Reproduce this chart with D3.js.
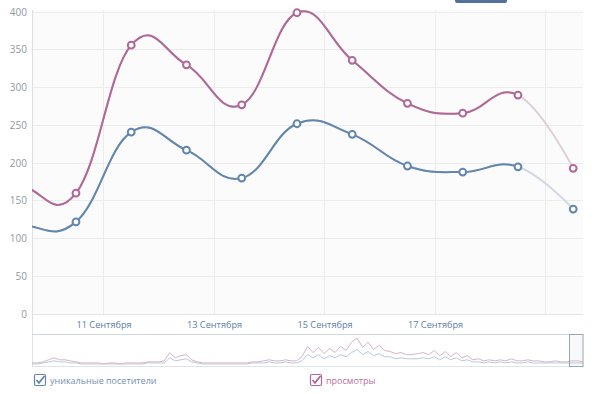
<!DOCTYPE html>
<meta charset="utf-8">
<style>
    body {
        margin: 0;
        background: #fff;
    }

    .chart text {
        font-family: "Open Sans", sans-serif;
    }

    .yaxis text {
        font-size: 10px;
        fill: #8f99a4;
    }

    .xaxis text {
        font-size: 9.2px;
        fill: #5d7ea6;
    }

    .grid line {
        stroke: #ececec;
        shape-rendering: crispEdges;
    }
</style>
<svg class="chart"></svg>
<script src="https://cdnjs.cloudflare.com/ajax/libs/d3/7.8.5/d3.min.js"></script>
<script>

    // days with points (noon), first two lie left of the visible area
    const days = ["2014-09-08", "2014-09-09", "2014-09-10", "2014-09-11", "2014-09-12", "2014-09-13",
        "2014-09-14", "2014-09-15", "2014-09-16", "2014-09-17", "2014-09-18", "2014-09-19"];
    const views = [180, 170, 160, 356, 330, 277, 399, 336, 279, 266, 290, 193];
    const visitors = [125, 118, 122, 241, 217, 180, 252, 238, 196, 188, 195, 139];

    const yTicks = [0, 50, 100, 150, 200, 250, 300, 350, 400];
    const xTickDays = ["2014-09-11", "2014-09-13", "2014-09-15", "2014-09-17", "2014-09-19"];
    const xTickLabels = ["11 Сентября", "13 Сентября", "15 Сентября", "17 Сентября", ""];

    // navigator overview (whole period)
    const navViews = [2, 2, 3, 5, 7, 5, 5, 4, 3, 2, 2, 2, 2, 1, 2, 2, 1, 2, 2, 2,
        2, 3, 3, 3, 4, 12, 7, 9, 10, 5, 3, 2, 2, 2, 2, 2, 2, 2, 2, 2,
        3, 3, 4, 5, 4, 4, 5, 4, 4, 8, 18, 12, 17, 11, 16, 12, 18, 14, 22, 26,
        17, 22, 15, 19, 14, 13, 11, 12, 10, 10, 11, 12, 10, 14, 9, 13, 8, 12, 7, 9,
        5, 6, 4, 5, 4, 5, 4, 6, 4, 4, 5, 4, 4, 3, 3, 4, 3, 3, 4, 4, 3];
    const navVisitors = [1, 1, 2, 3, 4, 3, 3, 2, 2, 1, 1, 1, 1, 1, 1, 1, 1, 1, 1, 1,
        1, 2, 2, 2, 2, 7, 4, 5, 6, 3, 2, 1, 1, 1, 1, 1, 1, 1, 1, 1,
        2, 2, 2, 3, 2, 2, 3, 2, 2, 4, 10, 7, 10, 6, 9, 7, 10, 8, 12, 15,
        10, 13, 9, 11, 8, 8, 6, 7, 6, 6, 6, 7, 6, 8, 5, 8, 5, 7, 4, 5,
        3, 3, 2, 3, 2, 3, 2, 3, 2, 2, 3, 2, 2, 2, 2, 2, 2, 2, 2, 2, 2];

    const seriesNames = ["уникальные посетители", "просмотры"];

    const width = 600, height = 394,
        plotLeft = 32, plotRight = 583,
        plotTop = 10, plotBottom = 314,
        navTop = 334, navBottom = 366;

    const colViews = "#b06896", colVisitors = "#6286ad",
        colViewsLight = "#ddd0d8", colVisitorsLight = "#d2d9e1";

    const noon = s => new Date(s + "T12:00:00Z");
    const midnight = s => new Date(s + "T00:00:00Z");

    const x = d3.scaleUtc()
        .domain([new Date("2014-09-09T16:54:00Z"), new Date("2014-09-19T16:15:00Z")])
        .range([plotLeft, plotRight]);

    const y = d3.scaleLinear()
        .domain([0, 400])
        .range([plotBottom, 12]);

    const svg = d3.select(".chart")
        .attr("width", width)
        .attr("height", height);

    // top button edge
    svg.append("rect")
        .attr("x", 455).attr("y", -5)
        .attr("width", 52).attr("height", 8)
        .attr("rx", 2)
        .attr("fill", "#52719b");

    svg.append("rect")
        .attr("x", plotLeft).attr("y", plotTop)
        .attr("width", plotRight - plotLeft).attr("height", plotBottom - plotTop)
        .attr("fill", "#fbfbfb");

    const defs = svg.append("defs");
    defs.append("clipPath").attr("id", "plotClip")
        .append("rect")
        .attr("x", plotLeft).attr("y", 0)
        .attr("width", plotRight - plotLeft).attr("height", plotBottom);
    defs.append("clipPath").attr("id", "doneClip")
        .append("rect")
        .attr("x", plotLeft).attr("y", 0)
        .attr("width", x(noon(days[days.length - 2])) - plotLeft).attr("height", plotBottom);

    // grid
    svg.append("g")
        .attr("class", "grid")
        .selectAll("line.h")
        .data(yTicks)
        .join("line")
        .attr("x1", plotLeft).attr("x2", plotRight)
        .attr("y1", d => y(d)).attr("y2", d => y(d));

    svg.append("g")
        .attr("class", "grid")
        .selectAll("line")
        .data(xTickDays)
        .join("line")
        .attr("x1", d => x(midnight(d))).attr("x2", d => x(midnight(d)))
        .attr("y1", plotTop).attr("y2", plotBottom);

    svg.append("line")
        .attr("x1", plotLeft + 0.5).attr("x2", plotLeft + 0.5)
        .attr("y1", plotTop).attr("y2", navBottom)
        .attr("stroke", "#dde1e6");

    svg.append("line")
        .attr("x1", plotLeft).attr("x2", plotRight)
        .attr("y1", plotBottom + 0.5).attr("y2", plotBottom + 0.5)
        .attr("stroke", "#e3e3e3");

    // axes
    const yAxis = d3.axisLeft(y)
        .tickValues(yTicks)
        .tickSize(0)
        .tickPadding(5);

    svg.append("g")
        .attr("class", "yaxis")
        .attr("transform", `translate(${plotLeft},0)`)
        .call(yAxis)
        .call(g => g.select(".domain").remove());

    const xAxis = d3.axisBottom(x)
        .tickValues(xTickDays.map(midnight))
        .tickFormat((d, i) => xTickLabels[i])
        .tickSize(0)
        .tickPadding(7);

    svg.append("g")
        .attr("class", "xaxis")
        .attr("transform", `translate(0,${plotBottom})`)
        .call(xAxis)
        .call(g => g.select(".domain").remove());

    // series
    const series = [
        {values: visitors, color: colVisitors, light: colVisitorsLight},
        {values: views, color: colViews, light: colViewsLight}
    ];

    const line = d3.line()
        .x((d, i) => x(noon(days[i])))
        .y(d => y(d))
        .curve(d3.curveCardinal.tension(-0.25));

    const plot = svg.append("g").attr("clip-path", "url(#plotClip)");

    series.forEach(s => {
        plot.append("path")
            .attr("d", line(s.values))
            .attr("fill", "none")
            .attr("stroke", s.light)
            .attr("stroke-width", 2);

        plot.append("path")
            .attr("d", line(s.values))
            .attr("clip-path", "url(#doneClip)")
            .attr("fill", "none")
            .attr("stroke", s.color)
            .attr("stroke-width", 2);
    });

    series.forEach(s => {
        plot.selectAll(null)
            .data(s.values)
            .join("circle")
            .attr("cx", (d, i) => x(noon(days[i])))
            .attr("cy", d => y(d))
            .attr("r", 3.4)
            .attr("fill", "#fff")
            .attr("stroke", s.color)
            .attr("stroke-width", 2);
    });

    // navigator
    const nx = d3.scaleLinear()
        .domain([0, navViews.length - 1])
        .range([plotLeft, plotRight]);
    const ny = d3.scaleLinear()
        .domain([0, 28])
        .range([navBottom - 1, navTop + 2]);

    svg.append("line")
        .attr("x1", plotLeft).attr("x2", plotRight)
        .attr("y1", navTop + 0.5).attr("y2", navTop + 0.5)
        .attr("stroke", "#cfd6de");
    svg.append("line")
        .attr("x1", plotLeft).attr("x2", plotRight)
        .attr("y1", navBottom + 0.5).attr("y2", navBottom + 0.5)
        .attr("stroke", "#dfe4ea");

    const navLine = d3.line()
        .x((d, i) => nx(i))
        .y(d => ny(d));

    svg.append("path")
        .attr("d", navLine(navVisitors))
        .attr("fill", "none")
        .attr("stroke", "#b9c8da")
        .attr("stroke-width", 1);
    svg.append("path")
        .attr("d", navLine(navViews))
        .attr("fill", "none")
        .attr("stroke", "#d8b3c9")
        .attr("stroke-width", 1);

    svg.append("rect")
        .attr("x", 569.5).attr("y", navTop + 0.5)
        .attr("width", plotRight - 569.5).attr("height", navBottom - navTop)
        .attr("fill", "rgba(200,210,222,0.15)")
        .attr("stroke", "#9aa6b3");

    // legend
    const legend = svg.append("g")
        .selectAll("g")
        .data([{name: seriesNames[0], color: colVisitors, text: "#7590b2", x: 34},
            {name: seriesNames[1], color: colViews, text: "#bb6f9d", x: 310}])
        .join("g")
        .attr("transform", d => `translate(${d.x},374)`);

    legend.append("rect")
        .attr("x", 0.5).attr("y", 0.5)
        .attr("width", 11).attr("height", 11)
        .attr("rx", 1.5)
        .attr("fill", "#fff")
        .attr("stroke", d => d.color)
        .attr("stroke-width", 1.2);

    legend.append("path")
        .attr("d", "M2.5,6 L5,8.8 L10.5,2")
        .attr("fill", "none")
        .attr("stroke", d => d.color)
        .attr("stroke-width", 1.8);

    legend.append("text")
        .attr("x", 16)
        .attr("y", 9.5)
        .attr("font-size", "9px")
        .attr("fill", d => d.text)
        .text(d => d.name);

</script>
